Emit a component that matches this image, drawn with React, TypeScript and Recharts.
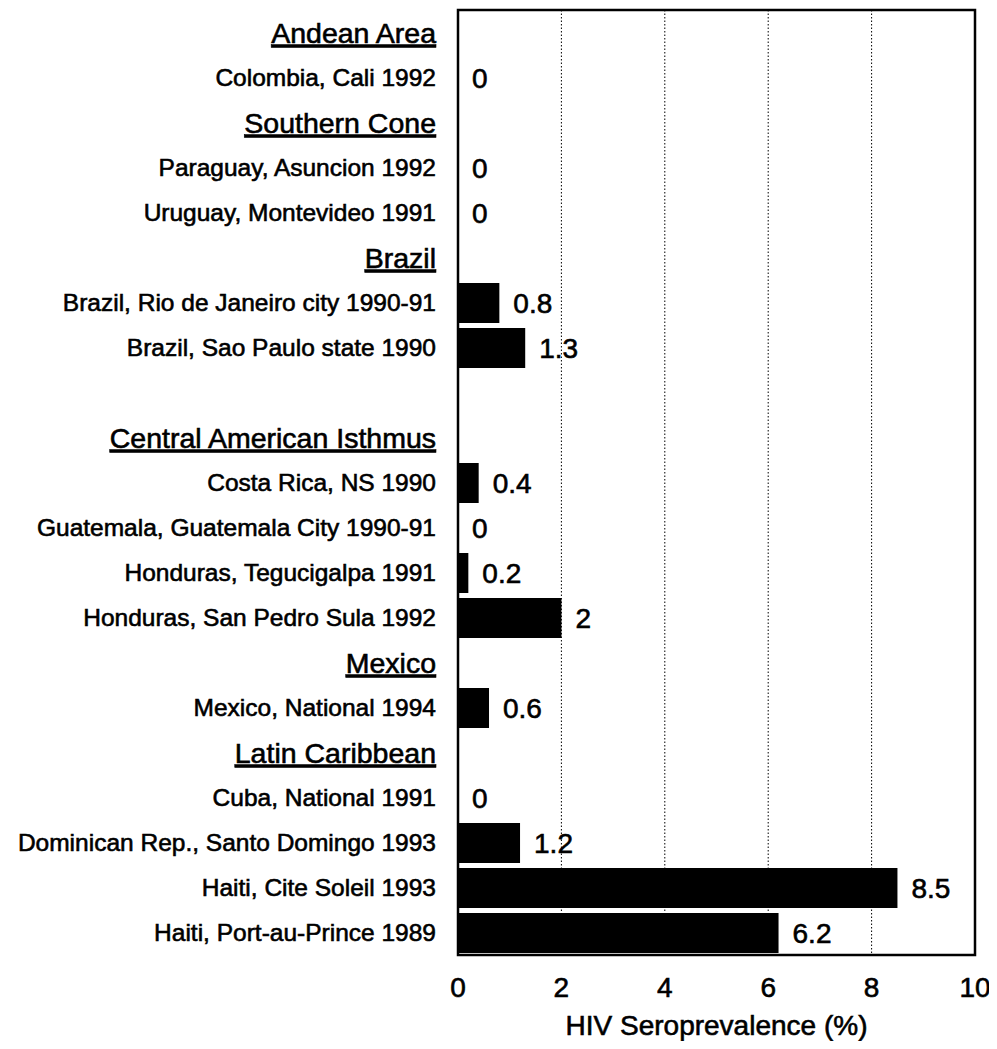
import React from "react";
import {
  BarChart,
  Bar,
  XAxis,
  YAxis,
  CartesianGrid,
  ReferenceArea,
} from "recharts";

const categories: string[] = [
  "Andean Area",
  "Colombia, Cali 1992",
  "Southern Cone",
  "Paraguay, Asuncion 1992",
  "Uruguay, Montevideo 1991",
  "Brazil",
  "Brazil, Rio de Janeiro city 1990-91",
  "Brazil, Sao Paulo state 1990",
  " ",
  "Central American Isthmus",
  "Costa Rica, NS 1990",
  "Guatemala, Guatemala City 1990-91",
  "Honduras, Tegucigalpa 1991",
  "Honduras, San Pedro Sula 1992",
  "Mexico",
  "Mexico, National 1994",
  "Latin Caribbean",
  "Cuba, National 1991",
  "Dominican Rep., Santo Domingo 1993",
  "Haiti, Cite Soleil 1993",
  "Haiti, Port-au-Prince 1989",
];

const values: (number | null)[] = [
  null, 0, null, 0, 0, null, 0.8, 1.3, null, null, 0.4, 0, 0.2, 2, null, 0.6,
  null, 0, 1.2, 8.5, 6.2,
];

const headers: string[] = [
  "Andean Area",
  "Southern Cone",
  "Brazil",
  "Central American Isthmus",
  "Mexico",
  "Latin Caribbean",
];

const xTicks: number[] = [0, 2, 4, 6, 8, 10];
const xLabel = "HIV Seroprevalence (%)";

const data = categories.map((name, i) => ({ name, value: values[i] }));

const FONT = "'Liberation Sans', Arial, Helvetica, sans-serif";

const YTick = (props: any) => {
  const { x, y, payload } = props;
  const name: string = payload.value;
  const isHeader = headers.includes(name);
  return (
    <text
      x={x - 22}
      y={y}
      dy="0.355em"
      textAnchor="end"
      fontFamily={FONT}
      fontSize={isHeader ? 28.5 : 24.5}
      fill="#000"
      stroke="#000"
      strokeWidth={0.6}
      textDecoration={isHeader ? "underline" : undefined}
      style={isHeader ? { textDecoration: "underline" } : undefined}
    >
      {name}
    </text>
  );
};

const XTick = (props: any) => {
  const { x, y, payload } = props;
  return (
    <text
      x={x}
      y={y}
      dy="0.71em"
      textAnchor="middle"
      fontFamily={FONT}
      fontSize={28}
      fill="#000"
      stroke="#000"
      strokeWidth={0.6}
    >
      {String(payload.value)}
    </text>
  );
};

const ValueLabel = (props: any) => {
  const { x, y, width, height, value } = props;
  if (value === null || value === undefined) return null;
  return (
    <text
      x={Number(x) + Number(width || 0) + 14}
      y={Number(y) + Number(height) / 2}
      dy="0.355em"
      textAnchor="start"
      fontFamily={FONT}
      fontSize={28}
      fill="#000"
      stroke="#000"
      strokeWidth={0.6}
    >
      {String(value)}
    </text>
  );
};

const XTitle = (props: any) => {
  const vb = props.viewBox || {};
  const cx = Number(vb.x) + Number(vb.width) / 2;
  const by = Number(vb.y) + Number(vb.height) - 14;
  return (
    <text
      x={cx}
      y={by}
      textAnchor="middle"
      fontFamily={FONT}
      fontSize={28}
      fill="#000"
      stroke="#000"
      strokeWidth={0.6}
    >
      {xLabel}
    </text>
  );
};

export default function App() {
  return (
    <div style={{ margin: -8, width: 997, height: 1049, background: "#fff" }}>
      <BarChart
        width={997}
        height={1049}
        data={data}
        layout="vertical"
        margin={{ top: 10, right: 22, bottom: 0, left: 0 }}
      >
        <CartesianGrid
          horizontal={false}
          vertical={true}
          stroke="#000"
          strokeDasharray="1.5 2"
          strokeWidth={1}
        />
        <XAxis
          type="number"
          domain={[0, 10]}
          ticks={xTicks}
          height={94}
          axisLine={false}
          tickLine={false}
          tickSize={0}
          tickMargin={22}
          tick={<XTick />}
          interval={0}
          label={<XTitle />}
        />
        <YAxis
          type="category"
          dataKey="name"
          width={458}
          axisLine={false}
          tickLine={false}
          tickSize={0}
          tickMargin={0}
          interval={0}
          tick={<YTick />}
        />
        <Bar
          dataKey="value"
          fill="#000"
          barSize={40}
          isAnimationActive={false}
          minPointSize={(v: any) => (v === 0 ? 0.01 : 0)}
          label={(p: any) => <ValueLabel {...p} />}
        />
        <ReferenceArea
          x1={0}
          x2={10}
          fill="none"
          fillOpacity={0}
          stroke="#000"
          strokeWidth={2.5}
          ifOverflow="visible"
        />
      </BarChart>
    </div>
  );
}
